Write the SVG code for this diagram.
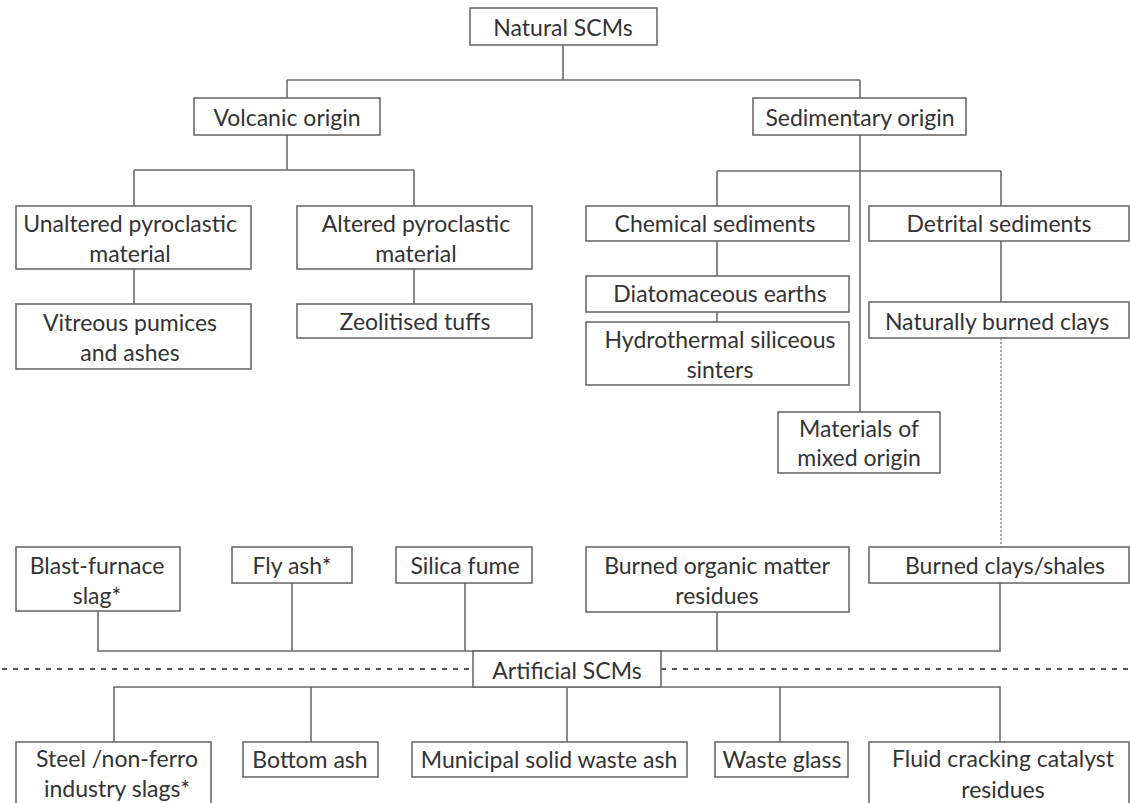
<svg xmlns="http://www.w3.org/2000/svg" width="1130" height="803" viewBox="0 0 1130 803">
<style>
.box{fill:#fff;stroke:#6b6b6b;stroke-width:1.6}
.t{font-family:Lato,"Liberation Sans",sans-serif;font-size:23px;fill:#333;text-anchor:middle;dominant-baseline:central}
.ln{fill:none;stroke:#6b6b6b;stroke-width:1.6}
.dash{fill:none;stroke:#555;stroke-width:2;stroke-dasharray:5 6}
.dot{fill:none;stroke:#888;stroke-width:1.5;stroke-dasharray:2 2}
</style>
<rect width="1130" height="803" fill="#fff"/>
<g id="connectors">
<path class="ln" d="M563 45V80M287 80H860M287 80V98M860 80V98"/>
<path class="ln" d="M287 135V170M134 170H414M134 170V206M414 170V206"/>
<path class="ln" d="M134 269V304M414 269V304"/>
<path class="ln" d="M860 135V412"/>
<path class="ln" d="M717 171H1001M717 171V206M1001 171V206"/>
<path class="ln" d="M717 241V276M717 312V322M1001 241V302"/>
<path class="dot" d="M1001 338V547"/>
<path class="ln" d="M98 611V651H1000V583M292 583V651M465 583V651M717 612V651"/>
<path class="ln" d="M114 742V687H1000V742M311 687V742M567 687V742M780 687V742"/>
<path class="dash" d="M2 669H473M661 669H1130"/>
</g>
<g id="natural"><rect class="box" x="470" y="8" width="187" height="37"/><text class="t" x="563" y="27">Natural SCMs</text></g>
<g id="volcanic"><rect class="box" x="194" y="98" width="186" height="37"/><text class="t" x="287" y="117">Volcanic origin</text></g>
<g id="sedimentary"><rect class="box" x="753" y="98" width="213" height="37"/><text class="t" x="860" y="117">Sedimentary origin</text></g>
<g id="unaltered"><rect class="box" x="16" y="206" width="235" height="63"/><text class="t" x="130" y="223">Unaltered pyroclastic</text><text class="t" x="130" y="253">material</text></g>
<g id="altered"><rect class="box" x="297" y="206" width="235" height="63"/><text class="t" x="416" y="223">Altered pyroclastic</text><text class="t" x="416" y="253">material</text></g>
<g id="vitreous"><rect class="box" x="16" y="304" width="235" height="65"/><text class="t" x="130" y="322">Vitreous pumices</text><text class="t" x="130" y="352">and ashes</text></g>
<g id="zeolitised"><rect class="box" x="297" y="304" width="235" height="34"/><text class="t" x="415" y="321">Zeolitised tuffs</text></g>
<g id="chemical"><rect class="box" x="586" y="206" width="263" height="35"/><text class="t" x="715" y="223">Chemical sediments</text></g>
<g id="detrital"><rect class="box" x="869" y="206" width="260" height="35"/><text class="t" x="999" y="223">Detrital sediments</text></g>
<g id="diatomaceous"><rect class="box" x="586" y="276" width="263" height="36"/><text class="t" x="720" y="293">Diatomaceous earths</text></g>
<g id="hydrothermal"><rect class="box" x="586" y="322" width="263" height="63"/><text class="t" x="720" y="339">Hydrothermal siliceous</text><text class="t" x="720" y="369">sinters</text></g>
<g id="naturally-burned"><rect class="box" x="869" y="302" width="260" height="36"/><text class="t" x="997" y="321">Naturally burned clays</text></g>
<g id="mixed"><rect class="box" x="778" y="412" width="162" height="61"/><text class="t" x="859" y="428">Materials of</text><text class="t" x="859" y="457">mixed origin</text></g>
<g id="blast"><rect class="box" x="16" y="547" width="164" height="64"/><text class="t" x="97" y="565">Blast-furnace</text><text class="t" x="97" y="595">slag*</text></g>
<g id="flyash"><rect class="box" x="232" y="547" width="120" height="36"/><text class="t" x="292" y="565">Fly ash*</text></g>
<g id="silica"><rect class="box" x="396" y="547" width="136" height="36"/><text class="t" x="465" y="565">Silica fume</text></g>
<g id="organic"><rect class="box" x="586" y="547" width="263" height="65"/><text class="t" x="717" y="565">Burned organic matter</text><text class="t" x="717" y="595">residues</text></g>
<g id="burned-clays"><rect class="box" x="869" y="547" width="260" height="36"/><text class="t" x="1005" y="565">Burned clays/shales</text></g>
<g id="artificial"><rect class="box" x="473" y="651" width="188" height="36"/><text class="t" x="567" y="670">Artificial SCMs</text></g>
<g id="steel"><rect class="box" x="16" y="742" width="195" height="80"/><text class="t" x="117" y="758">Steel /non-ferro</text><text class="t" x="117" y="788">industry slags*</text></g>
<g id="bottomash"><rect class="box" x="243" y="742" width="135" height="35"/><text class="t" x="310" y="759">Bottom ash</text></g>
<g id="municipal"><rect class="box" x="412" y="742" width="275" height="35"/><text class="t" x="549" y="759">Municipal solid waste ash</text></g>
<g id="wasteglass"><rect class="box" x="715" y="742" width="133" height="35"/><text class="t" x="782" y="759">Waste glass</text></g>
<g id="fluid"><rect class="box" x="869" y="742" width="260" height="80"/><text class="t" x="1003" y="758">Fluid cracking catalyst</text><text class="t" x="1003" y="789">residues</text></g>
</svg>
